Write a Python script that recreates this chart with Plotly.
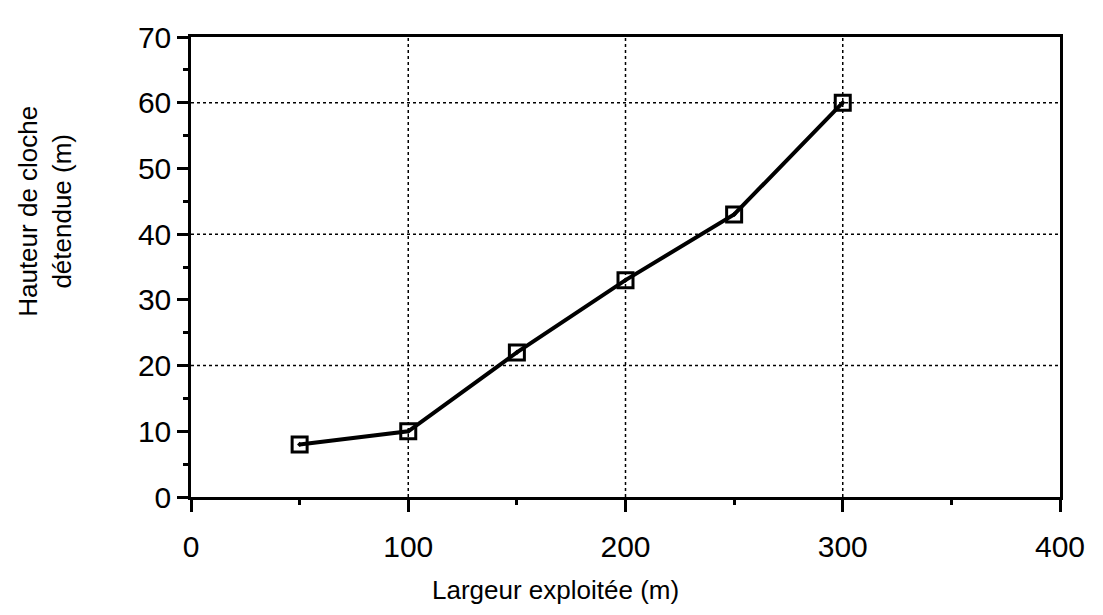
import plotly.graph_objects as go

# Data
largeur = [50, 100, 150, 200, 250, 300]
hauteur = [8, 10, 22, 33, 43, 60]

x_ticks = [0, 100, 200, 300, 400]
y_ticks = [0, 10, 20, 30, 40, 50, 60, 70]

x_title = "Largeur exploitée (m)"
y_title = "Hauteur de cloche<br>détendue (m)"

fig = go.Figure()
fig.add_trace(
    go.Scatter(
        x=largeur,
        y=hauteur,
        mode="lines+markers",
        line=dict(color="black", width=4),
        marker=dict(
            symbol="square-open-dot",
            size=15,
            color="black",
            line=dict(color="black", width=3),
        ),
        cliponaxis=False,
        showlegend=False,
    )
)

# dotted grid lines like the original
for gx in [100, 200, 300]:
    fig.add_shape(type="line", x0=gx, x1=gx, y0=0, y1=70, xref="x", yref="y",
                  line=dict(color="black", width=1.5, dash="dot"), layer="below")
for gy in [20, 40, 60]:
    fig.add_shape(type="line", x0=0, x1=400, y0=gy, y1=gy, xref="x", yref="y",
                  line=dict(color="black", width=1.5, dash="dot"), layer="below")

font_family = "Liberation Sans, Arial, sans-serif"

# axis titles sit off-centre in the original, so they are annotations here
fig.add_annotation(text=x_title, xref="paper", yref="paper", x=0.42, y=0,
                   xanchor="center", yanchor="middle", yshift=-93,
                   showarrow=False, font=dict(size=26))
fig.add_annotation(text=y_title, xref="paper", yref="paper", x=0, y=0.62,
                   xanchor="center", yanchor="middle", xshift=-146, textangle=-90,
                   showarrow=False, font=dict(size=26))

fig.update_layout(
    width=1103,
    height=615,
    margin=dict(l=183, r=51, t=25, b=126),
    paper_bgcolor="white",
    plot_bgcolor="white",
    font=dict(family=font_family, color="black"),
    xaxis=dict(
        range=[0, 400],
        tickvals=x_ticks,
        ticks="outside",
        ticklen=12,
        tickwidth=2.5,
        tickcolor="black",
        ticklabelstandoff=9,
        minor=dict(dtick=50, ticks="outside", ticklen=5, tickwidth=2.5, tickcolor="black"),
        showline=True,
        linecolor="black",
        linewidth=2.5,
        mirror=True,
        showgrid=False,
        zeroline=False,
        tickfont=dict(size=30),
    ),
    yaxis=dict(
        range=[0, 70],
        tickvals=y_ticks,
        ticks="outside",
        ticklen=11,
        tickwidth=2.5,
        tickcolor="black",
        minor=dict(dtick=5, ticks="outside", ticklen=5, tickwidth=2.5, tickcolor="black"),
        showline=True,
        linecolor="black",
        linewidth=2.5,
        mirror=True,
        showgrid=False,
        zeroline=False,
        tickfont=dict(size=30),
    ),
)

fig.write_html("out.html")
